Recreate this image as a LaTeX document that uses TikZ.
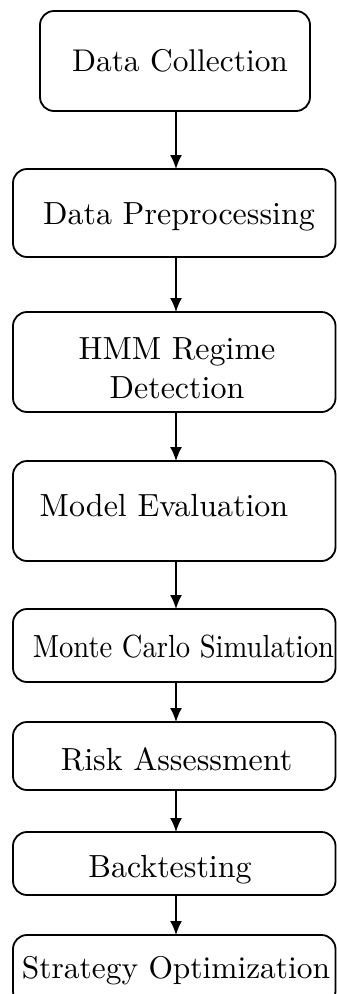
\documentclass[tikz,border=0pt]{standalone}
\usepackage{graphicx}
\usetikzlibrary{arrows.meta}
\begin{document}
\begin{tikzpicture}[x=1pt,y=-1pt,
  box/.style={draw, line width=1.8pt, rounded corners=14pt, inner sep=0pt, outer sep=0pt},
  lbl/.style={inner sep=0pt, anchor=base},
  arr/.style={line width=1.6pt, -{Latex[length=14pt,width=12pt]}}]
\useasboundingbox (0,0) rectangle (337,994);
\clip (0,0) rectangle (337,994);

% boxes
\node[box, minimum width=270pt,   minimum height=100pt] (b1) at (175,61) {};
\node[box, minimum width=322.5pt, minimum height=88pt]  (b2) at (174.25,213) {};
\node[box, minimum width=322.5pt, minimum height=100pt] (b3) at (174.25,362) {};
\node[box, minimum width=322.5pt, minimum height=100pt] (b4) at (174.25,511) {};
\node[box, minimum width=322.5pt, minimum height=73pt]  (b5) at (174.25,645.5) {};
\node[box, minimum width=322.5pt, minimum height=68pt]  (b6) at (174.25,756) {};
\node[box, minimum width=322.5pt, minimum height=63pt]  (b7) at (174.25,863.5) {};
\node[box, minimum width=322.5pt, minimum height=70pt]  (b8) at (174.25,970) {};

% labels
\node[lbl] (t1) at (180,71.7) {\scalebox{3.14}{Data Collection}};
\node[lbl] (t2) at (179,224) {\scalebox{3.2}{Data Preprocessing}};
\node[lbl] (t3) at (177,398) {\scalebox{3.2}{\begin{tabular}[b]{@{}c@{}}HMM Regime\\Detection\end{tabular}}};
\node[lbl] (t4) at (164,516) {\scalebox{3.2}{Model Evaluation}};
\node[lbl] (t5) at (183.5,657) {\scalebox{2.86}[3.2]{Monte Carlo Simulation}};
\node[lbl] (t6) at (176.5,770) {\scalebox{3.2}{Risk Assessment}};
\node[lbl] (t7) at (170,877) {\scalebox{3.2}{Backtesting}};
\node[lbl] (t8) at (176,978) {\scalebox{3.14}{Strategy Optimization}};

% connectors
\draw[arr] ([xshift=1pt]b1.south) -- ([xshift=1pt]b1.south |- b2.north);
\foreach \a/\b in {b2/b3,b3/b4,b4/b5,b5/b6,b6/b7,b7/b8}
  \draw[arr] ([xshift=1.75pt]\a.south) -- ([xshift=1.75pt]\a.south |- \b.north);
\end{tikzpicture}
\end{document}
